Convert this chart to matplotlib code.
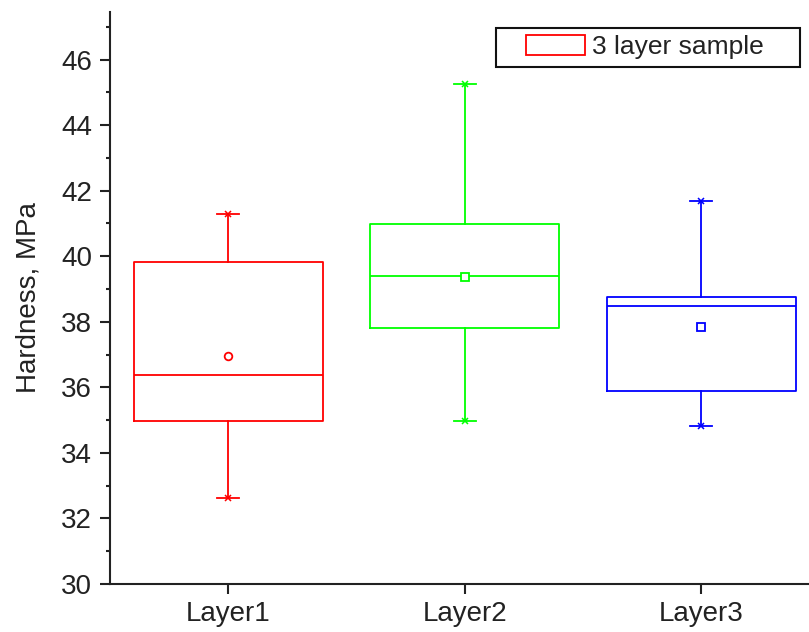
import matplotlib
matplotlib.use("Agg")
import matplotlib.pyplot as plt
from matplotlib.patches import Patch, Rectangle
from matplotlib.ticker import MultipleLocator

plt.rcParams['font.family'] = ['Liberation Sans', 'DejaVu Sans']

categories = ["Layer1", "Layer2", "Layer3"]
whisker_low = [32.62, 34.97, 34.82]
q1 = [34.97, 37.80, 35.88]
median = [36.37, 39.40, 38.48]
q3 = [39.82, 40.98, 38.75]
whisker_high = [41.30, 45.24, 41.68]
mean = [36.95, 39.36, 37.84]
colors = ["#FF0000", "#00FF00", "#0000FF"]
mean_markers = ["o", "s", "s"]
legend_label = "3 layer sample"

W, H = 809, 632
fig = plt.figure(figsize=(W / 100, H / 100), dpi=100)
left_px, right_px = 110, 819.5
bottom_px, top_px = 584, 12
ax = fig.add_axes([left_px / W, (H - bottom_px) / H,
                   (right_px - left_px) / W, (bottom_px - top_px) / H])

positions = list(range(1, len(categories) + 1))
fs = 20

for i, pos in enumerate(positions):
    stats = [dict(med=median[i], q1=q1[i], q3=q3[i],
                  whislo=whisker_low[i], whishi=whisker_high[i],
                  mean=mean[i], fliers=[], label=categories[i])]
    c = colors[i]
    ax.bxp(stats, positions=[pos], widths=0.8, capwidths=0.093,
           showmeans=True, showfliers=False, manage_ticks=False,
           boxprops=dict(color=c, linewidth=1.3),
           medianprops=dict(color=c, linewidth=1.3),
           whiskerprops=dict(color=c, linewidth=1.3),
           capprops=dict(color=c, linewidth=1.3),
           meanprops=dict(marker=mean_markers[i], markerfacecolor="white",
                          markeredgecolor=c, markersize=5.5,
                          markeredgewidth=1.3))
    ax.plot([pos, pos], [whisker_low[i], whisker_high[i]], linestyle="none",
            marker="x", markersize=5, color=c, markeredgewidth=1.1)

ax.set_xlim(0.5, 3.5)
ax.set_ylim(30, 47.45)
ax.set_xticks(positions)
ax.set_xticklabels(categories)
ax.yaxis.set_major_locator(MultipleLocator(2))
ax.yaxis.set_minor_locator(MultipleLocator(1))
ax.spines['top'].set_visible(False)
ax.spines['right'].set_visible(False)
for s in ['left', 'bottom']:
    ax.spines[s].set_linewidth(1.5)
    ax.spines[s].set_color('#222222')

ax.tick_params(axis='y', which='major', direction='out', length=7, width=1.5,
               labelsize=fs, pad=6, colors='#222222')
ax.tick_params(axis='y', which='minor', direction='out', length=3, width=1.5,
               colors='#222222')
ax.tick_params(axis='x', which='major', direction='out', length=7, width=1.5,
               labelsize=fs, pad=5, colors='#222222')
ax.set_ylabel("Hardness, MPa", fontsize=fs, labelpad=14, color='#222222')

# legend (frame drawn separately for Origin-like padding)
handle = Patch(facecolor='white', edgecolor=colors[0], linewidth=1.3)
leg = ax.legend([handle], [legend_label], loc='center left',
                bbox_to_anchor=(526 / W, 1 - 47 / H),
                bbox_transform=fig.transFigure, borderaxespad=0,
                fontsize=19, frameon=False,
                handlelength=2.23, handleheight=0.83, handletextpad=0.27,
                borderpad=0, labelcolor='#222222')
fig.patches.append(Rectangle((496 / W, 1 - 67 / H), 304 / W, 39 / H,
                             transform=fig.transFigure, fill=False,
                             edgecolor='#111111', linewidth=1.5))

fig.savefig("out.png", dpi=100)
